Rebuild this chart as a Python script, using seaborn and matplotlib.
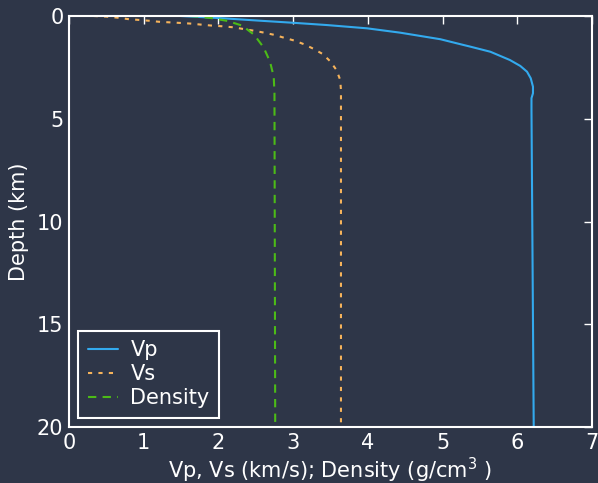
import matplotlib
matplotlib.use("Agg")
import matplotlib.pyplot as plt
import seaborn as sns
import pandas as pd

# ---- data ----
vp_depth = [0.0, 0.10, 0.23, 0.33, 0.44, 0.60, 0.81, 1.13, 1.41, 1.49, 1.74, 2.14, 2.43, 2.71,
            3.03, 3.44, 3.76, 4.00, 4.57, 20.0]
vp_vals  = [1.50, 2.01, 2.56, 3.00, 3.45, 3.99, 4.43, 4.97, 5.28, 5.37, 5.64, 5.90, 6.04, 6.13,
            6.18, 6.21, 6.21, 6.19, 6.19, 6.22]

vs_depth = [0.0, 0.03, 0.08, 0.15, 0.19, 0.23, 0.28, 0.31, 0.34, 0.37, 0.42, 0.47, 0.50, 0.55, 0.63,
            0.72, 0.81, 0.92, 1.06, 1.20, 1.38, 1.61, 1.86, 2.22, 2.63, 3.11, 3.60, 20.0]
vs_vals  = [0.33, 0.50, 0.65, 0.79, 0.93, 1.07, 1.20, 1.35, 1.50, 1.63, 1.77, 1.92, 2.05, 2.20, 2.33,
            2.48, 2.61, 2.75, 2.88, 3.02, 3.15, 3.28, 3.40, 3.50, 3.58, 3.63, 3.64, 3.64]

rho_depth = [0.0, 0.03, 0.11, 0.24, 0.47, 0.92, 1.41, 1.57, 2.22, 2.95, 3.75, 20.0]
rho_vals  = [1.62, 1.74, 1.92, 2.12, 2.32, 2.48, 2.58, 2.61, 2.69, 2.74, 2.75, 2.76]

x_ticks = [0, 1, 2, 3, 4, 5, 6, 7]
y_ticks = [0, 5, 10, 15, 20]

bg = "#2e3648"
fg = "white"
fs = 15

sns.set_theme(style="dark")
plt.rcParams.update({
    "font.family": ["DejaVu Sans"],
    "figure.facecolor": bg,
    "axes.facecolor": bg,
    "axes.edgecolor": fg,
    "axes.labelcolor": fg,
    "xtick.color": fg,
    "ytick.color": fg,
    "text.color": fg,
})

fig = plt.figure(figsize=(5.98, 4.83), dpi=100)
ax = fig.add_axes([69/598, 1-427/483, (592-69)/598, (427-16)/483])

df_vp = pd.DataFrame({"v": vp_vals, "d": vp_depth})
df_vs = pd.DataFrame({"v": vs_vals, "d": vs_depth})
df_rho = pd.DataFrame({"v": rho_vals, "d": rho_depth})

sns.lineplot(data=df_vp, x="v", y="d", ax=ax, sort=False, estimator=None,
             color="#33aaee", lw=1.5, label="Vp")
sns.lineplot(data=df_vs, x="v", y="d", ax=ax, sort=False, estimator=None,
             color="#f6b35b", lw=1.5, linestyle=(0, (2, 3)), label="Vs")
sns.lineplot(data=df_rho, x="v", y="d", ax=ax, sort=False, estimator=None,
             color="#4cbb17", lw=1.5, linestyle=(0, (4, 3)), label="Density")

ax.set_xlim(0, 7)
ax.set_ylim(20, 0)
ax.set_xticks(x_ticks)
ax.set_yticks(y_ticks)
ax.tick_params(direction="in", length=6, width=1, top=True, right=True,
               labelsize=fs, colors=fg, pad=4)
for s in ax.spines.values():
    s.set_color(fg)
    s.set_linewidth(1.5)
    s.set_visible(True)
ax.grid(False)

ax.set_xlabel("Vp, Vs (km/s); Density (g/cm$^3$ )", fontsize=fs, labelpad=2)
ax.set_ylabel("Depth (km)", fontsize=fs, labelpad=6)

leg = ax.legend(loc="lower left", fontsize=fs, frameon=True, fancybox=False,
                handlelength=1.45, handletextpad=0.6, borderpad=0.45,
                labelspacing=0.2, borderaxespad=0.45)
leg.get_frame().set_facecolor(bg)
leg.get_frame().set_edgecolor(fg)
leg.get_frame().set_linewidth(1.5)
leg.get_frame().set_alpha(1)
for t in leg.get_texts():
    t.set_color(fg)

fig.savefig("out.png", dpi=100, facecolor=bg)
